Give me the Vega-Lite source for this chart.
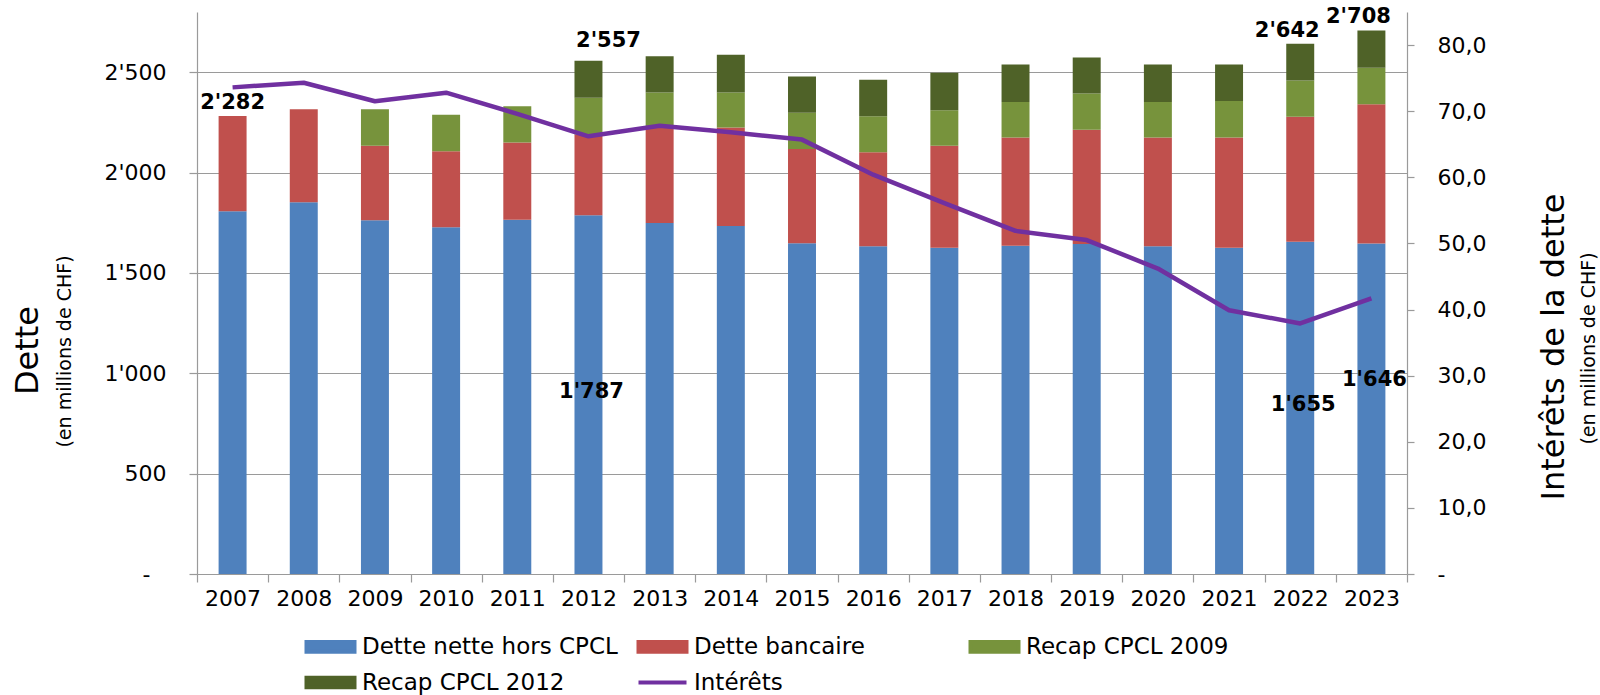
{
  "$schema": "https://vega.github.io/schema/vega-lite/v6.json",
  "width": 1210,
  "height": 562,
  "autosize": {"type": "none"},
  "padding": {"left": 197, "top": 12, "right": 193, "bottom": 121},
  "background": "white",
  "config": {
    "view": {"stroke": null},
    "font": "DejaVu Sans",
    "axis": {
      "labelFont": "DejaVu Sans",
      "titleFont": "DejaVu Sans",
      "labelColor": "#000000",
      "titleColor": "#000000",
      "labelFontSize": 22,
      "domainColor": "#9a9a9a",
      "tickColor": "#9a9a9a",
      "domainWidth": 1.2,
      "tickWidth": 1.2,
      "titleFontWeight": "normal"
    }
  },
  "datasets": {
    "dette": [
      {"annee": "2007", "serie": "Dette nette hors CPCL", "valeur": 1807},
      {"annee": "2007", "serie": "Dette bancaire", "valeur": 475},
      {"annee": "2008", "serie": "Dette nette hors CPCL", "valeur": 1852},
      {"annee": "2008", "serie": "Dette bancaire", "valeur": 463},
      {"annee": "2009", "serie": "Dette nette hors CPCL", "valeur": 1762},
      {"annee": "2009", "serie": "Dette bancaire", "valeur": 372},
      {"annee": "2009", "serie": "Recap CPCL 2009", "valeur": 181},
      {"annee": "2010", "serie": "Dette nette hors CPCL", "valeur": 1727},
      {"annee": "2010", "serie": "Dette bancaire", "valeur": 379},
      {"annee": "2010", "serie": "Recap CPCL 2009", "valeur": 182},
      {"annee": "2011", "serie": "Dette nette hors CPCL", "valeur": 1765},
      {"annee": "2011", "serie": "Dette bancaire", "valeur": 385},
      {"annee": "2011", "serie": "Recap CPCL 2009", "valeur": 180},
      {"annee": "2012", "serie": "Dette nette hors CPCL", "valeur": 1787},
      {"annee": "2012", "serie": "Dette bancaire", "valeur": 403},
      {"annee": "2012", "serie": "Recap CPCL 2009", "valeur": 183},
      {"annee": "2012", "serie": "Recap CPCL 2012", "valeur": 184},
      {"annee": "2013", "serie": "Dette nette hors CPCL", "valeur": 1749},
      {"annee": "2013", "serie": "Dette bancaire", "valeur": 474},
      {"annee": "2013", "serie": "Recap CPCL 2009", "valeur": 176},
      {"annee": "2013", "serie": "Recap CPCL 2012", "valeur": 181},
      {"annee": "2014", "serie": "Dette nette hors CPCL", "valeur": 1734},
      {"annee": "2014", "serie": "Dette bancaire", "valeur": 491},
      {"annee": "2014", "serie": "Recap CPCL 2009", "valeur": 174},
      {"annee": "2014", "serie": "Recap CPCL 2012", "valeur": 188},
      {"annee": "2015", "serie": "Dette nette hors CPCL", "valeur": 1648},
      {"annee": "2015", "serie": "Dette bancaire", "valeur": 469},
      {"annee": "2015", "serie": "Recap CPCL 2009", "valeur": 181},
      {"annee": "2015", "serie": "Recap CPCL 2012", "valeur": 181},
      {"annee": "2016", "serie": "Dette nette hors CPCL", "valeur": 1633},
      {"annee": "2016", "serie": "Dette bancaire", "valeur": 468},
      {"annee": "2016", "serie": "Recap CPCL 2009", "valeur": 180},
      {"annee": "2016", "serie": "Recap CPCL 2012", "valeur": 181},
      {"annee": "2017", "serie": "Dette nette hors CPCL", "valeur": 1626},
      {"annee": "2017", "serie": "Dette bancaire", "valeur": 508},
      {"annee": "2017", "serie": "Recap CPCL 2009", "valeur": 176},
      {"annee": "2017", "serie": "Recap CPCL 2012", "valeur": 187},
      {"annee": "2018", "serie": "Dette nette hors CPCL", "valeur": 1636},
      {"annee": "2018", "serie": "Dette bancaire", "valeur": 539},
      {"annee": "2018", "serie": "Recap CPCL 2009", "valeur": 176},
      {"annee": "2018", "serie": "Recap CPCL 2012", "valeur": 188},
      {"annee": "2019", "serie": "Dette nette hors CPCL", "valeur": 1644},
      {"annee": "2019", "serie": "Dette bancaire", "valeur": 569},
      {"annee": "2019", "serie": "Recap CPCL 2009", "valeur": 181},
      {"annee": "2019", "serie": "Recap CPCL 2012", "valeur": 179},
      {"annee": "2020", "serie": "Dette nette hors CPCL", "valeur": 1633},
      {"annee": "2020", "serie": "Dette bancaire", "valeur": 542},
      {"annee": "2020", "serie": "Recap CPCL 2009", "valeur": 176},
      {"annee": "2020", "serie": "Recap CPCL 2012", "valeur": 188},
      {"annee": "2021", "serie": "Dette nette hors CPCL", "valeur": 1626},
      {"annee": "2021", "serie": "Dette bancaire", "valeur": 549},
      {"annee": "2021", "serie": "Recap CPCL 2009", "valeur": 181},
      {"annee": "2021", "serie": "Recap CPCL 2012", "valeur": 183},
      {"annee": "2022", "serie": "Dette nette hors CPCL", "valeur": 1655},
      {"annee": "2022", "serie": "Dette bancaire", "valeur": 623},
      {"annee": "2022", "serie": "Recap CPCL 2009", "valeur": 181},
      {"annee": "2022", "serie": "Recap CPCL 2012", "valeur": 183},
      {"annee": "2023", "serie": "Dette nette hors CPCL", "valeur": 1646},
      {"annee": "2023", "serie": "Dette bancaire", "valeur": 695},
      {"annee": "2023", "serie": "Recap CPCL 2009", "valeur": 181},
      {"annee": "2023", "serie": "Recap CPCL 2012", "valeur": 186}
    ],
    "interets": [
      {"annee": "2007", "interets": 73.6},
      {"annee": "2008", "interets": 74.3},
      {"annee": "2009", "interets": 71.5},
      {"annee": "2010", "interets": 72.8},
      {"annee": "2011", "interets": 69.6},
      {"annee": "2012", "interets": 66.2},
      {"annee": "2013", "interets": 67.8},
      {"annee": "2014", "interets": 66.8},
      {"annee": "2015", "interets": 65.7},
      {"annee": "2016", "interets": 60.4},
      {"annee": "2017", "interets": 56.1},
      {"annee": "2018", "interets": 51.9},
      {"annee": "2019", "interets": 50.5},
      {"annee": "2020", "interets": 46.2},
      {"annee": "2021", "interets": 39.9},
      {"annee": "2022", "interets": 37.9},
      {"annee": "2023", "interets": 41.7}
    ]
  },
  "encoding": {
    "x": {
      "field": "annee", "type": "ordinal",
      "scale": {"type": "band", "paddingInner": 0, "paddingOuter": 0},
      "axis": {"title": null, "labelAngle": 0, "tickBand": "extent", "tickSize": 8, "labelPadding": 6, "grid": false}
    }
  },
  "layer": [
    {
      "data": {"name": "dette"},
      "mark": {"type": "bar", "width": {"band": 0.393}},
      "transform": [
        {"calculate": "indexof(['Dette nette hors CPCL','Dette bancaire','Recap CPCL 2009','Recap CPCL 2012'], datum.serie)", "as": "rang"}
      ],
      "encoding": {
        "y": {
          "field": "valeur", "type": "quantitative", "stack": "zero",
          "scale": {"domain": [0, 2800], "nice": false},
          "axis": {
            "orient": "left",
            "values": [0, 500, 1000, 1500, 2000, 2500],
            "grid": true, "gridColor": "#9a9a9a", "gridWidth": 1.2,
            "tickSize": 8,
            "labelPadding": {"condition": {"test": "datum.value === 0", "value": 39}, "value": 23},
            "labelExpr": "datum.value === 0 ? '-' : replace(format(datum.value, ','), ',', \"'\")",
            "title": "Dette", "titleFontSize": 32, "titleAngle": 270,
            "titleX": -170, "titleY": 338, "titleAlign": "center", "titleBaseline": "middle"
          }
        },
        "color": {
          "field": "serie", "type": "nominal",
          "scale": {
            "domain": ["Dette nette hors CPCL", "Dette bancaire", "Recap CPCL 2009", "Recap CPCL 2012", "Intérêts"],
            "range": ["#4F81BD", "#C0504D", "#77933C", "#4F6228", "#7030A0"]
          },
          "legend": {
            "title": null, "orient": "none", "legendX": 122, "legendY": 623,
            "direction": "horizontal", "columns": 3, "gridAlign": "all",
            "columnPadding": 12, "rowPadding": 9, "padding": 0,
            "symbolSize": 144, "labelFontSize": 23, "labelFont": "DejaVu Sans",
            "labelColor": "#000000", "labelOffset": 20, "labelLimit": 400,
            "encode": {
              "symbols": {
                "update": {
                  "shape": {"signal": "datum.value === 'Intérêts' ? 'M-4,0H4' : 'M-4,-0.8H4V0.8H-4Z'"},
                  "fill": {"signal": "datum.value === 'Dette nette hors CPCL' ? '#4F81BD' : datum.value === 'Dette bancaire' ? '#C0504D' : datum.value === 'Recap CPCL 2009' ? '#77933C' : datum.value === 'Recap CPCL 2012' ? '#4F6228' : 'transparent'"},
                  "stroke": {"signal": "datum.value === 'Intérêts' ? '#7030A0' : 'transparent'"},
                  "strokeWidth": {"value": 4},
                  "opacity": {"value": 1},
                  "fillOpacity": {"value": 1},
                  "strokeOpacity": {"value": 1}
                }
              }
            }
          }
        },
        "order": {"field": "rang", "type": "quantitative", "sort": "ascending"}
      }
    },
    {
      "data": {"name": "interets"},
      "mark": {"type": "line", "strokeWidth": 4.5, "strokeJoin": "round"},
      "encoding": {
        "y": {
          "field": "interets", "type": "quantitative",
          "scale": {"domain": [0, 85], "nice": false},
          "axis": {
            "orient": "right",
            "values": [0, 10, 20, 30, 40, 50, 60, 70, 80],
            "grid": false, "tickSize": 7, "labelPadding": 23,
            "labelExpr": "datum.value === 0 ? '-' : replace(format(datum.value, '.1f'), '.', ',')",
            "title": "Intérêts de la dette", "titleFontSize": 32, "titleAngle": 270,
            "titleX": 146.5, "titleY": 334.5, "titleAlign": "center", "titleBaseline": "middle"
          }
        },
        "color": {"datum": "Intérêts", "type": "nominal"}
      }
    },
    {
      "data": {"name": "dette"},
      "transform": [
        {"filter": "datum.annee === '2007'"},
        {"aggregate": [{"op": "sum", "field": "valeur", "as": "total"}], "groupby": ["annee"]},
        {"calculate": "replace(format(datum.total, ','), ',', \"'\")", "as": "etiquette"}
      ],
      "mark": {"type": "text", "font": "DejaVu Sans", "fontWeight": "bold", "fontSize": 21, "baseline": "alphabetic", "dy": -7, "color": "#000000"},
      "encoding": {
        "y": {"field": "total", "type": "quantitative", "scale": {"domain": [0, 2800], "nice": false}, "axis": null},
        "text": {"field": "etiquette"}
      }
    },
    {
      "data": {"name": "dette"},
      "transform": [
        {"filter": "datum.annee === '2022' || datum.annee === '2023'"},
        {"aggregate": [{"op": "sum", "field": "valeur", "as": "total"}], "groupby": ["annee"]},
        {"calculate": "replace(format(datum.total, ','), ',', \"'\")", "as": "etiquette"}
      ],
      "mark": {"type": "text", "font": "DejaVu Sans", "fontWeight": "bold", "fontSize": 21, "baseline": "alphabetic", "dx": -13, "dy": -7, "color": "#000000"},
      "encoding": {
        "y": {"field": "total", "type": "quantitative", "scale": {"domain": [0, 2800], "nice": false}, "axis": null},
        "text": {"field": "etiquette"}
      }
    },
    {
      "data": {"name": "dette"},
      "transform": [
        {"filter": "datum.annee === '2012'"},
        {"aggregate": [{"op": "sum", "field": "valeur", "as": "total"}], "groupby": ["annee"]},
        {"calculate": "replace(format(datum.total, ','), ',', \"'\")", "as": "etiquette"}
      ],
      "mark": {"type": "text", "font": "DejaVu Sans", "fontWeight": "bold", "fontSize": 21, "baseline": "alphabetic", "dx": 20, "dy": -14, "color": "#000000"},
      "encoding": {
        "y": {"field": "total", "type": "quantitative", "scale": {"domain": [0, 2800], "nice": false}, "axis": null},
        "text": {"field": "etiquette"}
      }
    },
    {
      "data": {"name": "dette"},
      "transform": [
        {"filter": "datum.serie === 'Dette nette hors CPCL' && (datum.annee === '2012' || datum.annee === '2022')"},
        {"calculate": "datum.valeur / 2", "as": "milieu"},
        {"calculate": "replace(format(datum.valeur, ','), ',', \"'\")", "as": "etiquette"}
      ],
      "mark": {"type": "text", "font": "DejaVu Sans", "fontWeight": "bold", "fontSize": 21, "baseline": "middle", "dx": 3, "dy": -3, "color": "#000000"},
      "encoding": {
        "y": {"field": "milieu", "type": "quantitative", "scale": {"domain": [0, 2800], "nice": false}, "axis": null},
        "text": {"field": "etiquette"}
      }
    },
    {
      "data": {"name": "dette"},
      "transform": [
        {"filter": "datum.serie === 'Dette nette hors CPCL' && datum.annee === '2023'"},
        {"calculate": "datum.valeur / 2", "as": "milieu"},
        {"calculate": "replace(format(datum.valeur, ','), ',', \"'\")", "as": "etiquette"}
      ],
      "mark": {"type": "text", "font": "DejaVu Sans", "fontWeight": "bold", "fontSize": 21, "baseline": "middle", "dx": 3, "dy": -29, "color": "#000000"},
      "encoding": {
        "y": {"field": "milieu", "type": "quantitative", "scale": {"domain": [0, 2800], "nice": false}, "axis": null},
        "text": {"field": "etiquette"}
      }
    },
    {
      "data": {"name": "interets"},
      "mark": {"type": "point", "opacity": 0},
      "encoding": {
        "y": {
          "field": "interets", "type": "quantitative",
          "axis": {
            "orient": "left", "labels": false, "ticks": false, "domain": false, "grid": false,
            "title": "(en millions de CHF)", "titleFontSize": 19, "titleAngle": 270,
            "titleX": -133, "titleY": 339, "titleAlign": "center", "titleBaseline": "middle"
          }
        }
      }
    },
    {
      "data": {"name": "interets"},
      "mark": {"type": "point", "opacity": 0},
      "encoding": {
        "y": {
          "field": "interets", "type": "quantitative",
          "axis": {
            "orient": "right", "labels": false, "ticks": false, "domain": false, "grid": false,
            "title": "(en millions de CHF)", "titleFontSize": 19, "titleAngle": 270,
            "titleX": 181.5, "titleY": 336, "titleAlign": "center", "titleBaseline": "middle"
          }
        }
      }
    }
  ],
  "resolve": {"scale": {"y": "independent"}}
}
